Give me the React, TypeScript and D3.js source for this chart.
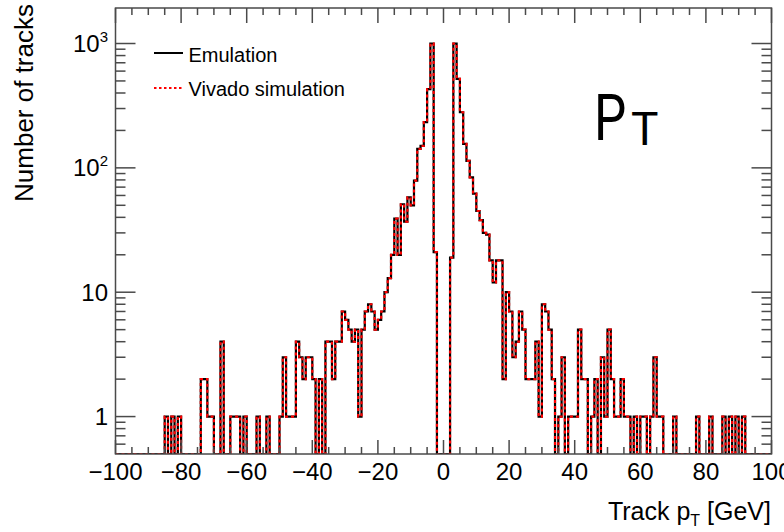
import React from 'react';
import * as d3 from 'd3';

// Histogram: 200 bins of 1 GeV from -100 to 100
const binLow = -100;
const binWidth = 1;
const countsM100toM51 = [
  0, 0, 0, 0, 0, 0, 0, 0, 0, 0,
  0, 0, 0, 0, 0, 1, 0, 1, 0, 1,
  0, 0, 0, 0, 0, 0, 2, 2, 1, 1,
  0, 0, 4, 0, 0, 1, 1, 1, 0, 1,
  0, 0, 0, 1, 0, 0, 1, 0, 0, 0,
];
const countsM50toM1 = [
  1, 3, 1, 1, 1, 4, 3, 2, 3, 3,
  2, 0, 2, 0, 4, 4, 2, 4, 4, 7,
  6, 5, 4, 5, 1, 5, 7, 8, 7, 5,
  6, 7, 10, 13, 20, 39, 20, 51, 37, 58,
  50, 79, 142, 150, 233, 430, 1000, 21, 0, 0,
];
const counts0to49 = [
  0, 0, 19, 1000, 520, 280, 156, 114, 84, 62,
  45, 38, 30, 29, 18, 12, 18, 18, 2, 10,
  7, 3, 4, 7, 5, 2, 2, 2, 4, 1,
  8, 7, 5, 2, 0, 1, 3, 0, 1, 1,
  1, 5, 2, 2, 0, 1, 2, 0, 3, 1,
];
const counts50to99 = [
  5, 2, 1, 1, 2, 1, 1, 0, 1, 0,
  1, 1, 0, 1, 3, 1, 1, 0, 0, 0,
  1, 0, 0, 0, 0, 0, 0, 1, 0, 0,
  0, 1, 0, 0, 0, 1, 0, 1, 0, 1,
  0, 1, 0, 0, 0, 0, 0, 0, 0, 0,
];

const xTickValues = [-100, -80, -60, -40, -20, 0, 20, 40, 60, 80, 100];
const yMajorTicks = [1, 10, 100, 1000];
const yTickLabels = ['1', '10', '10|2', '10|3'];
const legendLabels = ['Emulation', 'Vivado simulation'];
const xTitle = ['Track p', 'T', ' [GeV]'];
const yTitle = 'Number of tracks';
const annotation = ['P', 'T'];

const FONT = '"Liberation Sans", Arial, Helvetica, sans-serif';

export default function App() {
  const W = 784, H = 532;
  const left = 115.5, right = 771.5, top = 8, bottom = 454;
  const x = d3.scaleLinear().domain([-100, 100]).range([left, right]);
  const y = d3.scaleLog().domain([0.5, 1930]).range([bottom, top]);

  const counts = [...countsM100toM51, ...countsM50toM1, ...counts0to49, ...counts50to99];
  const pts: [number, number][] = counts.map((c, i) => [binLow + i * binWidth, c]);
  pts.push([binLow + counts.length * binWidth, counts[counts.length - 1]]);
  const line = d3
    .line<[number, number]>()
    .x((d) => x(d[0]))
    .y((d) => (d[1] > 0 ? y(d[1]) : bottom))
    .curve(d3.curveStepAfter);
  const path = line(pts) || '';

  const axisColor = '#4a4a4a';
  const xMinor = d3.range(-100, 100.1, 5).filter((v) => v % 20 !== 0);
  const yMinor: number[] = [];
  [0.1, 1, 10, 100, 1000].forEach((dec) => {
    for (let k = 2; k <= 9; k++) {
      const v = dec * k;
      if (v > 0.5 && v < 1930) yMinor.push(v);
    }
  });

  return (
    <svg width={W} height={H} style={{ position: 'absolute', left: 0, top: 0, background: '#fff' }}>
      <defs>
        <clipPath id="frame">
          <rect x={left} y={top} width={right - left} height={bottom - top} />
        </clipPath>
      </defs>
      <rect x={0} y={0} width={W} height={H} fill="#fff" />

      {/* histogram */}
      <g clipPath="url(#frame)">
        <path d={path} fill="none" stroke="#000" strokeWidth={2.2} />
        <path d={path} fill="none" stroke="#ff0000" strokeWidth={2.2} strokeDasharray="3 3" />
      </g>

      {/* frame */}
      <rect x={left} y={top} width={right - left} height={bottom - top} fill="none" stroke={axisColor} strokeWidth={1.5} />

      {/* x ticks bottom & top */}
      {xTickValues.map((v) => (
        <g key={'xt' + v}>
          <line x1={x(v)} x2={x(v)} y1={bottom} y2={bottom - 14} stroke={axisColor} strokeWidth={1.5} />
          <line x1={x(v)} x2={x(v)} y1={top} y2={top + 15} stroke={axisColor} strokeWidth={1.5} />
          <text x={x(v)} y={480} textAnchor="middle" fontFamily={FONT} fontSize={24} fill="#000">
            {v < 0 ? '\u2212' + Math.abs(v) : String(v)}
          </text>
        </g>
      ))}
      {xMinor.map((v) => (
        <g key={'xm' + v}>
          <line x1={x(v)} x2={x(v)} y1={bottom} y2={bottom - 7} stroke={axisColor} strokeWidth={1.5} />
          <line x1={x(v)} x2={x(v)} y1={top} y2={top + 7} stroke={axisColor} strokeWidth={1.5} />
        </g>
      ))}

      {/* y ticks left & right */}
      {yMajorTicks.map((v, i) => {
        const parts = yTickLabels[i].split('|');
        return (
          <g key={'yt' + v}>
            <line x1={left} x2={left + 20} y1={y(v)} y2={y(v)} stroke={axisColor} strokeWidth={1.5} />
            <line x1={right} x2={right - 20} y1={y(v)} y2={y(v)} stroke={axisColor} strokeWidth={1.5} />
            <text x={108} y={y(v) + 8.5} textAnchor="end" fontFamily={FONT} fontSize={24} fill="#000">
              {parts[0]}
              {parts[1] ? (
                <tspan fontSize={15} dy={-10}>
                  {parts[1]}
                </tspan>
              ) : null}
            </text>
          </g>
        );
      })}
      {yMinor.map((v) => (
        <g key={'ym' + v}>
          <line x1={left} x2={left + 10} y1={y(v)} y2={y(v)} stroke={axisColor} strokeWidth={1.5} />
          <line x1={right} x2={right - 10} y1={y(v)} y2={y(v)} stroke={axisColor} strokeWidth={1.5} />
        </g>
      ))}

      {/* axis titles */}
      <text x={771} y={520} textAnchor="end" fontFamily={FONT} fontSize={25} fill="#000">
        {xTitle[0]}
        <tspan fontSize={16} dy={6}>
          {xTitle[1]}
        </tspan>
        <tspan dy={-6}>{xTitle[2]}</tspan>
      </text>
      <text
        transform="translate(33.3,4) rotate(-90)"
        textAnchor="end"
        fontFamily={FONT}
        fontSize={26}
        fill="#000"
      >
        {yTitle}
      </text>

      {/* legend */}
      <line x1={154} x2={183} y1={53} y2={53} stroke="#000" strokeWidth={2} />
      <text x={188.5} y={61.5} fontFamily={FONT} fontSize={20} fill="#000">
        {legendLabels[0]}
      </text>
      <line x1={154} x2={183} y1={88} y2={88} stroke="#ff0000" strokeWidth={2} strokeDasharray="2.5 2.5" />
      <text x={188.5} y={95.5} fontFamily={FONT} fontSize={20} fill="#000">
        {legendLabels[1]}
      </text>

      {/* annotation */}
      <text
        transform="translate(594,140) scale(0.8,1)"
        fontFamily='Roboto, "Liberation Sans", Arial, sans-serif'
        fontWeight={400}
        fontSize={64}
        fill="#000"
      >
        {annotation[0]}
      </text>
      <text x={631} y={145} fontFamily='Roboto, "Liberation Sans", Arial, sans-serif' fontWeight={400} fontSize={46} fill="#000">
        {annotation[1]}
      </text>
    </svg>
  );
}
